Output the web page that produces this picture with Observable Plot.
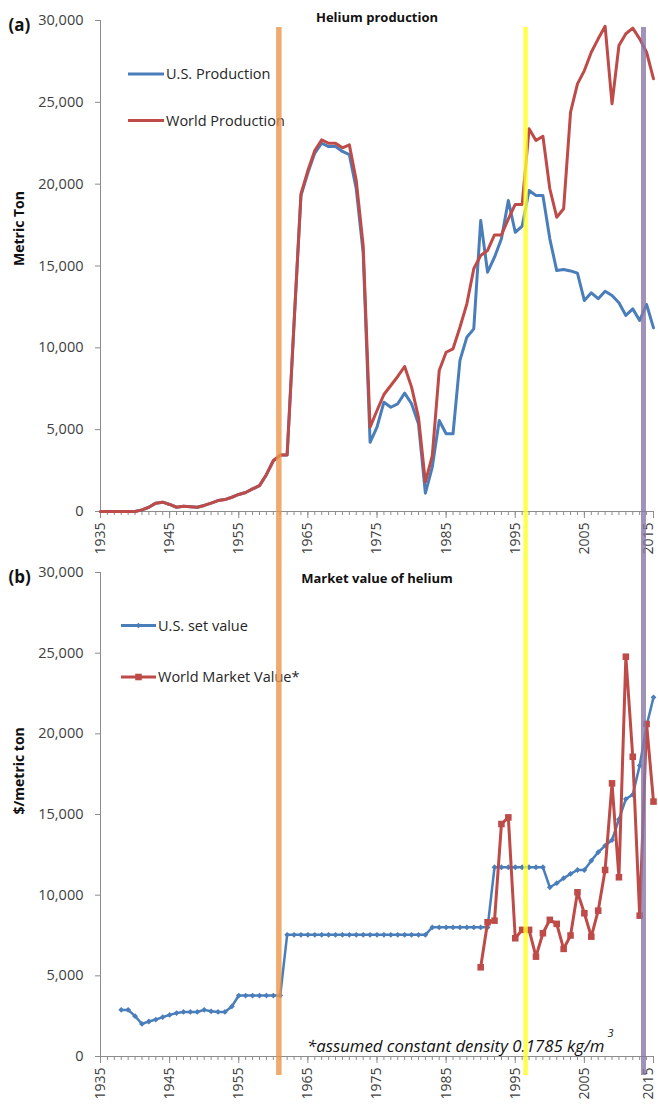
<!DOCTYPE html>
<html><head><meta charset="utf-8">
<script src="https://cdn.jsdelivr.net/npm/d3@7"></script>
<script src="https://cdn.jsdelivr.net/npm/@observablehq/plot@0.6"></script>
<style>
body{margin:0;background:#fff;}
#wrap{position:relative;width:658px;height:1104px;font-family:"Open Sans",sans-serif;overflow:hidden;}
#overlay,#top,#bot{position:absolute;left:0;}
#overlay{top:0;}
#top{top:0;}
#bot{top:560px;}
</style></head><body>
<div id="wrap"><div id="top"></div><div id="bot"></div></div>
<script>
// ---------- data ----------
const years = [1935,1936,1937,1938,1939,1940,1941,1942,1943,1944,1945,1946,1947,1948,1949,1950,
  1951,1952,1953,1954,1955,1956,1957,1958,1959,1960,1961,1962,1963,1964,1965,1966,1967,1968,1969,1970,
  1971,1972,1973,1974,1975,1976,1977,1978,1979,1980,1981,1982,1983,1984,1985,1986,1987,1988,1989,1990,
  1991,1992,1993,1994,1995,1996,1997,1998,1999,2000,2001,2002,2003,2004,2005,2006,2007,2008,2009,2010,
  2011,2012,2013,2014,2015];
const usProduction = [0,0,0,0,0,0,100,260,510,570,430,260,320,290,260,370,
  510,670,730,870,1040,1160,1380,1580,2250,3100,3450,3450,11500,19300,20700,21900,22500,22300,22300,22000,
  21800,19700,15800,4230,5150,6680,6370,6580,7230,6580,5360,1120,2710,5560,4750,4750,9230,10650,11160,17780,
  14620,15540,16660,19000,17060,17430,19610,19310,19310,16660,14720,14790,14700,14560,12890,13360,13000,13460,13200,12750,
  11980,12380,11670,12650,11220];
const worldProduction = [0,0,0,0,0,0,100,260,510,570,430,260,320,290,260,370,
  510,670,730,870,1040,1160,1380,1580,2250,3100,3450,3450,11500,19400,20830,22060,22710,22500,22500,22220,
  22400,20220,16250,5150,6170,7150,7700,8250,8860,7600,5760,1790,3420,8610,9730,9940,11260,12690,14830,15640,
  15950,16900,16900,17880,18760,18760,23380,22670,22930,19720,17980,18500,24400,26130,26940,28060,28880,29650,24910,28470,
  29190,29530,28880,28060,26440];

const setValueYears = [1938,1939,1940,1941,1942,1943,1944,1945,1946,1947,1948,1949,1950,
  1951,1952,1953,1954,1955,1956,1957,1958,1959,1960,1961,1962,1963,1964,1965,1966,1967,1968,1969,1970,
  1971,1972,1973,1974,1975,1976,1977,1978,1979,1980,1981,1982,1983,1984,1985,1986,1987,1988,1989,1990,
  1991,1992,1993,1994,1995,1996,1997,1998,1999,2000,2001,2002,2003,2004,2005,2006,2007,2008,2009,2010,
  2011,2012,2013,2014,2015];
const usSetValue = [2890,2890,2500,2020,2170,2290,2440,2580,2690,2760,2760,2760,2890,
  2800,2760,2760,3100,3780,3780,3780,3780,3780,3780,3780,7540,7540,7540,7540,7540,7540,7540,7540,7540,
  7540,7540,7540,7540,7540,7540,7540,7540,7540,7540,7540,7540,8010,8010,8010,8010,8010,8010,8010,8010,
  8010,11730,11730,11730,11730,11730,11730,11730,11730,10490,10740,11050,11320,11560,11560,12140,12660,13070,13420,14700,
  15960,16230,18030,20500,22260];

const marketYears = [1990,1991,1992,1993,1994,1995,1996,1997,1998,1999,2000,2001,2002,2003,2004,2005,
  2006,2007,2008,2009,2010,2011,2012,2013,2014,2015];
const worldMarketValue = [5530,8320,8420,14410,14820,7330,7850,7850,6190,7640,8470,8220,6670,7500,10180,8880,
  7430,9040,11560,16930,11110,24780,18580,8730,20610,15800];

const eventYears = [1960.8, 1996.5, 2013.55];
const xTicks = [1935,1945,1955,1965,1975,1985,1995,2005,2015];
const yTicks = [0,5000,10000,15000,20000,25000,30000];

const topTitle = "Helium production";
const bottomTitle = "Market value of helium";
const topYLabel = "Metric Ton";
const bottomYLabel = "$/metric ton";
const topSeries = ["U.S. Production", "World Production"];
const bottomSeries = ["U.S. set value", "World Market Value*"];
const footnote = "*assumed constant density 0.1785 kg/m";

// ---------- styles ----------
const BLUE = "#4A7EBB", RED = "#BE4B48", AXIS = "#8c8c8c", TICKTXT = "#404040";
const eventStyle = [
  {stroke: "#EC954A", width: 5.5},
  {stroke: "#FFFF24", width: 4.5},
  {stroke: "#8877A6", width: 5}
];
const FONT = "'Open Sans', sans-serif";
const fmtComma = d3.format(",");

const prodRows = years.map((y, i) => ({year: y, us: usProduction[i], world: worldProduction[i]}));
const setRows = setValueYears.map((y, i) => ({year: y, v: usSetValue[i]}));
const mktRows = marketYears.map((y, i) => ({year: y, v: worldMarketValue[i]}));

const xTicksInner = xTicks.slice(0, -1);
const xTickLast = xTicks.slice(-1);

function axes() {
  const lab = {tickSize: 0, tickPadding: 11, tickRotate: -90, tickFormat: d => String(d), fontSize: 14, fill: TICKTXT, label: null};
  return [
    Plot.ruleX([1935], {stroke: AXIS}),
    Plot.ruleY([0], {stroke: AXIS}),
    Plot.axisY(yTicks, {tickSize: 5, stroke: AXIS, fill: "none", label: null}),
    Plot.axisY(yTicks, {tickSize: 0, tickPadding: 17, tickFormat: fmtComma, fontSize: 14.5, fill: TICKTXT, label: null}),
    Plot.axisX(years, {tickSize: 4, stroke: AXIS, fill: "none", label: null}),
    Plot.axisX(xTicks, {tickSize: 7, stroke: AXIS, fill: "none", label: null}),
    Plot.axisX(xTicksInner, lab),
    Plot.axisX(xTickLast, {...lab, dx: -5})
  ];
}
function eventRules(insetTop, insetBottom) {
  return eventYears.map((yr, i) => Plot.ruleX([yr], {
    stroke: eventStyle[i].stroke, strokeWidth: eventStyle[i].width, strokeOpacity: 0.8,
    insetTop, insetBottom
  }));
}

const topChart = Plot.plot({
  width: 658, height: 560,
  marginLeft: 100, marginRight: 5, marginTop: 20, marginBottom: 49,
  style: {overflow: "visible", fontFamily: FONT, background: "transparent"},
  x: {domain: [1935, 2015]},
  y: {domain: [0, 30000]},
  marks: [
    ...axes(),
    Plot.line(prodRows, {x: "year", y: "us", stroke: BLUE, strokeWidth: 3}),
    Plot.line(prodRows, {x: "year", y: "world", stroke: RED, strokeWidth: 3}),
    ...eventRules(7, -49),
    Plot.text([topTitle], {frameAnchor: "top", dy: -8, fontWeight: "bold", fontSize: 13, fill: "#111"}),
    Plot.text(["(a)"], {frameAnchor: "top-left", dx: -92, dy: -2, textAnchor: "start", fontWeight: "bold", fontSize: 17, fill: "#111"}),
    Plot.text([topYLabel], {frameAnchor: "left", dx: -81, rotate: -90, fontWeight: "bold", fontSize: 14, fill: "#111"})
  ]
});
document.getElementById("top").appendChild(topChart);

const botChart = Plot.plot({
  width: 658, height: 544,
  marginLeft: 100, marginRight: 5, marginTop: 12, marginBottom: 48,
  style: {overflow: "visible", fontFamily: FONT, background: "transparent"},
  x: {domain: [1935, 2015]},
  y: {domain: [0, 30000]},
  marks: [
    ...axes(),
    Plot.line(setRows, {x: "year", y: "v", stroke: BLUE, strokeWidth: 2.5}),
    Plot.dot(setRows, {x: "year", y: "v", fill: BLUE, symbol: "diamond2", r: 2.6, stroke: "none"}),
    Plot.line(mktRows, {x: "year", y: "v", stroke: RED, strokeWidth: 3}),
    Plot.dot(mktRows, {x: "year", y: "v", fill: RED, symbol: "square", r: 3.7, stroke: "none"}),
    ...eventRules(-12, -19),
    Plot.text([bottomTitle], {frameAnchor: "top", dy: 1, fontWeight: "bold", fontSize: 13, fill: "#111"}),
    Plot.text(["(b)"], {frameAnchor: "top-left", dx: -92, dy: -2, textAnchor: "start", fontWeight: "bold", fontSize: 17, fill: "#111"}),
    Plot.text([bottomYLabel], {frameAnchor: "left", dx: -81, rotate: -90, fontWeight: "bold", fontSize: 14, fill: "#111"})
  ]
});
document.getElementById("bot").appendChild(botChart);

// ---------- legends & footnote (overlay beneath the charts) ----------
const ov = d3.select("#wrap").insert("svg", ":first-child")
  .attr("id", "overlay").attr("width", 658).attr("height", 1104)
  .style("font-family", FONT);

function legendRow(y, x1, x2, color, label, marker, tx) {
  const g = ov.append("g");
  g.append("line").attr("x1", x1).attr("x2", x2).attr("y1", y).attr("y2", y)
    .attr("stroke", color).attr("stroke-width", 3);
  if (marker) {
    const sym = d3.symbol().type(marker === "square" ? d3.symbolSquare : d3.symbolDiamond2)
      .size(marker === "square" ? 43 : 21);
    g.append("path").attr("d", sym()).attr("transform", `translate(${(x1 + x2) / 2},${y})`).attr("fill", color);
  }
  g.append("text").attr("x", tx).attr("y", y).attr("dy", "0.35em")
    .attr("font-size", 14.5).attr("fill", "#262626").text(label);
}
legendRow(74, 128, 164, BLUE, topSeries[0], null, 166);
legendRow(120.5, 128, 164, RED, topSeries[1], null, 166);
legendRow(625.5, 121, 156, BLUE, bottomSeries[0], "diamond", 158);
legendRow(677, 121, 156, RED, bottomSeries[1], "square", 158);

const fn = ov.append("text").attr("x", 307).attr("y", 1052)
  .attr("font-size", 16.8).attr("font-style", "italic").attr("fill", "#111").text(footnote);
fn.append("tspan").attr("dy", -15).attr("dx", 3).attr("font-size", 11).text("3");
</script>
</body></html>
